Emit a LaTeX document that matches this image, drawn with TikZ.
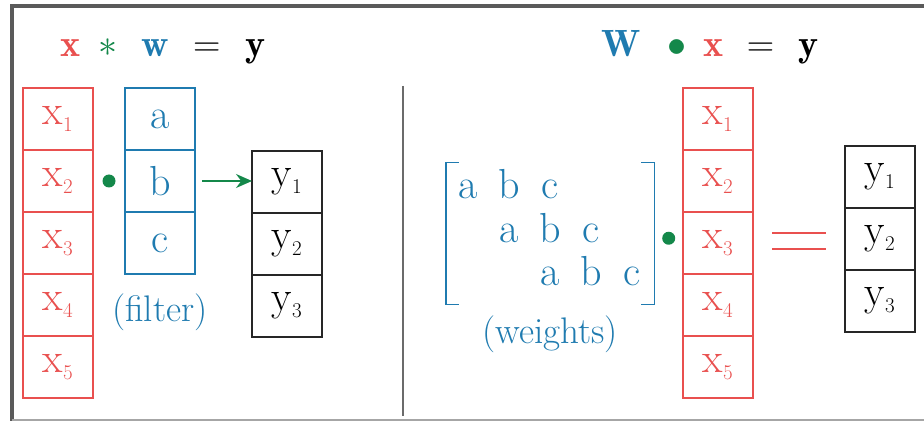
\documentclass[tikz,border=0pt]{standalone}
\usepackage{fix-cm}
\usepackage{fontspec}
\usetikzlibrary{arrows.meta, positioning, fit, calc}
\definecolor{cvred}{HTML}{E9504F}
\definecolor{cvblue}{HTML}{1F7BB0}
\definecolor{cvgreen}{HTML}{14884A}
\definecolor{cvgrey}{HTML}{5A5A5A}
\newcommand{\cellfont}{\fontsize{42}{46}\selectfont}
\newcommand{\eqfont}{\fontsize{38}{42}\selectfont}
\newcommand{\lblfont}{\fontsize{37}{40}\selectfont}
\newcommand{\sub}[1]{$_{\scriptscriptstyle #1}$}
\tikzset{
  cell/.style={
    draw, line width=1.8pt, minimum width=70pt, minimum height=62pt,
    inner sep=0pt, outer sep=0pt, font=\cellfont},
  xcell/.style={cell, draw=cvred, text=cvred},
  wcell/.style={cell, draw=cvblue, text=cvblue},
  ycell/.style={cell, draw=black!85, text=black},
  entry/.style={font=\cellfont, text=cvblue, inner sep=0pt,
    text height=18pt, text depth=0pt, minimum width=24pt},
  gdot/.style={circle, fill=cvgreen, inner sep=0pt, minimum size=13pt},
  note/.style={font=\lblfont, text=cvblue},
  flow/.style={-{Stealth[length=16pt, width=14pt]}, draw=cvgreen,
    line width=1.8pt},
  bracket/.style={draw=cvblue, line width=1.8pt},
}

\begin{document}
\begin{tikzpicture}[x=1pt, y=-1pt]
  \useasboundingbox (0,0) rectangle (924,422);
  \fill[white] (0,0) rectangle (924,422);
  % frame and divider
  \draw[cvgrey, line width=4pt] (924,6) -- (12,6) -- (12,421);
  \draw[black!35, line width=2pt] (12,420) -- (924,420);
  \draw[cvgrey!90, line width=2.5pt] (403,86) -- (403,416);

  % convolution: x * w = y
  \node[font=\eqfont] (eqconv) at (163,51)
    {${\color{cvred}\mathbf{x}}\hspace{18pt}{\color{cvgreen}\ast}\hspace{24pt}
      {\color{cvblue}\mathbf{w}}\hspace{24pt}{=}\hspace{25pt}\mathbf{y}$};
  \node[xcell] (x1) at (58,119) {x\sub1};
  \foreach \i [count=\j from 1] in {2,...,5}
    \node[xcell, below=0pt of x\j] (x\i) {x\sub\i};
  \node[wcell] (w1) at (160,119) {a};
  \node[wcell, below=0pt of w1] (w2) {b};
  \node[wcell, below=0pt of w2] (w3) {c};
  \node[note, below=16pt of w3] (filterlbl) {(filter)};
  \node[ycell] (y1) at (287,182) {y\sub1};
  \foreach \i [count=\j from 1] in {2,3}
    \node[ycell, below=0pt of y\j] (y\i) {y\sub\i};
  \node[gdot] (dotl) at ($(x2.east)!0.5!(w2.west)$) {};
  \draw[flow, shorten <=7pt] (w2.east) -- (w2.east -| y1.west);

  % matrix product: W . x = y
  \node[font=\eqfont] (eqmat) at (710,47)
    {${\color{cvblue}\mathbf{W}}\hspace{27pt}{\color{cvgreen}\bullet}\hspace{17pt}
      {\color{cvred}\mathbf{x}}\hspace{23pt}{=}\hspace{24pt}\mathbf{y}$};
  \foreach \r in {1,2,3}
    \foreach \lt [count=\c] in {a,b,c}
      \node[entry] (m\r\c) at ({468+41*(\r+\c-2)}, {190+43.5*(\r-1)}) {\lt};
  \node[fit=(m11)(m33), inner xsep=10pt, inner ysep=18pt] (wmat) {};
  \draw[bracket] ([xshift=13pt]wmat.north west) -- (wmat.north west)
    -- (wmat.south west) -- ([xshift=13pt]wmat.south west);
  \draw[bracket] ([xshift=-13pt]wmat.north east) -- (wmat.north east)
    -- (wmat.south east) -- ([xshift=-13pt]wmat.south east);
  \node[note, below=8pt of wmat] (weightslbl) {(weights)};
  \node[xcell] (rx1) at (718,119) {x\sub1};
  \foreach \i [count=\j from 1] in {2,...,5}
    \node[xcell, below=0pt of rx\j] (rx\i) {x\sub\i};
  \node[ycell] (ry1) at (880,177) {y\sub1};
  \foreach \i [count=\j from 1] in {2,3}
    \node[ycell, below=0pt of ry\j] (ry\i) {y\sub\i};
  \node[gdot] (dotr) at ($(wmat.east)!0.5!(rx3.west)$) {};
  \coordinate (eqsign) at ($(rx3.east)!0.5!(ry2.west)$);
  \draw[cvred, line width=2.6pt] ($(eqsign)+(-27,-8)$) -- ++(54,0);
  \draw[cvred, line width=2.6pt] ($(eqsign)+(-27,8)$) -- ++(54,0);
\end{tikzpicture}
\end{document}
